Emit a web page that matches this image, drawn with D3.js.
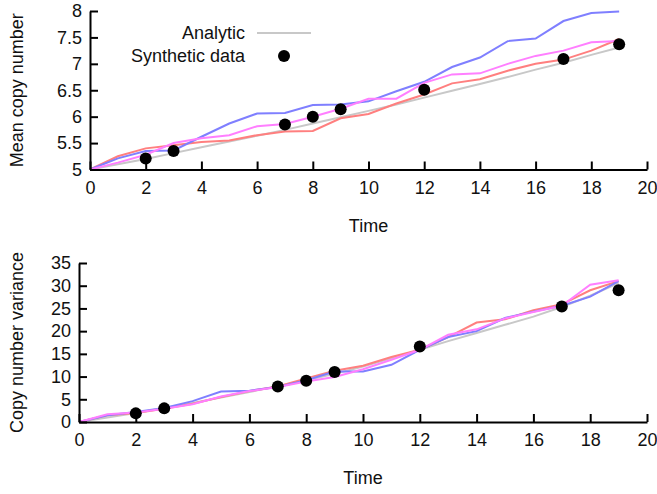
<!DOCTYPE html>
<html lang="en">
<head>
<meta charset="utf-8">
<title>Copy number</title>
<script src="https://cdnjs.cloudflare.com/ajax/libs/d3/7.8.5/d3.min.js"></script>
<style>
  body { margin: 0; background: #fff; }
  svg { display: block; font-family: "Liberation Sans", Arial, sans-serif; }
  .tick text { font-size: 18px; fill: #111; }
  .title { font-size: 18px; fill: #111; }
</style>
</head>
<body>
<script>
// time points of the runs
var time = [0,1,2,3,4,5,6,7,8,9,10,11,12,13,14,15,16,17,18,19];

// mean copy number
var meanAnalytic = [5.00,5.10,5.20,5.31,5.42,5.53,5.64,5.75,5.87,5.99,6.11,6.23,6.36,6.49,6.62,6.75,6.89,7.02,7.17,7.31];
var meanRed     = [5.00,5.25,5.40,5.46,5.52,5.55,5.65,5.72,5.73,5.97,6.05,6.25,6.42,6.63,6.71,6.87,7.00,7.08,7.25,7.47];
var meanBlue    = [5.00,5.21,5.35,5.36,5.62,5.87,6.06,6.07,6.22,6.23,6.29,6.48,6.66,6.94,7.12,7.43,7.48,7.81,7.96,7.99];
var meanMagenta = [5.00,5.13,5.28,5.50,5.59,5.65,5.82,5.86,6.00,6.15,6.34,6.34,6.64,6.80,6.82,7.00,7.15,7.25,7.41,7.43];

// copy number variance
var varAnalytic = [0,1.0,2.0,3.1,4.2,5.4,6.6,7.9,9.2,10.6,12.2,14.0,15.9,17.8,19.6,21.4,23.2,25.3,27.8,30.6];
var varRed      = [0,1.5,2.0,2.9,4.0,5.5,6.8,7.8,9.6,11.3,12.4,14.3,15.9,18.7,21.9,22.6,24.6,25.9,29.0,31.0];
var varBlue     = [0,1.5,2.2,3.1,4.6,6.7,6.9,7.7,9.2,11.1,11.1,12.6,15.9,18.7,20.0,22.9,24.3,25.6,27.6,31.0];
var varMagenta  = [0,1.7,2.1,2.9,3.9,5.6,6.8,7.7,8.9,9.9,11.6,13.7,15.9,19.2,20.4,22.8,24.2,25.6,30.2,31.2];

// synthetic data points
var sampleTime = [2,3,7,8,9,12,17,19];
var sampleMean = [5.21,5.35,5.85,6.00,6.14,6.51,7.09,7.37];
var sampleVar  = [1.9,3.0,7.8,9.1,11.0,16.6,25.4,29.0];

var xTicks = [0,2,4,6,8,10,12,14,16,18,20];
var meanTicks = [5,5.5,6,6.5,7,7.5,8];
var varTicks = [0,5,10,15,20,25,30,35];

var w = 657, h = 494;
var svg = d3.select("body").append("svg").attr("width", w).attr("height", h);

function panel(opt) {
  var x = d3.scaleLinear().domain([0, 20]).range([opt.left, 647]);
  var y = d3.scaleLinear().domain(opt.ydom).range([opt.bottom, opt.top]);
  var g = svg.append("g");

  var line = d3.line().x(function(d, i) { return x(time[i]); }).y(function(d) { return y(d); });
  var series = [
    { v: opt.analytic, c: "#c8c8c8" },
    { v: opt.red, c: "#ff7f7f" },
    { v: opt.blue, c: "#7f7fff" },
    { v: opt.magenta, c: "#ff7fff" }
  ];
  g.selectAll("path.series").data(series).enter().append("path")
    .attr("class", "series")
    .attr("d", function(d) { return line(d.v); })
    .attr("fill", "none")
    .attr("stroke", function(d) { return d.c; })
    .attr("stroke-width", 2);

  g.selectAll("circle.pt").data(sampleTime).enter().append("circle")
    .attr("class", "pt")
    .attr("cx", function(d) { return x(d); })
    .attr("cy", function(d, i) { return y(opt.samples[i]); })
    .attr("r", 6)
    .attr("fill", "#000");

  var xa = g.append("g").attr("transform", "translate(0," + opt.bottom + ")")
    .call(d3.axisBottom(x).tickValues(xTicks).tickSizeInner(-8).tickSizeOuter(0).tickPadding(9));
  var ya = g.append("g").attr("transform", "translate(" + opt.left + ",0)")
    .call(d3.axisLeft(y).tickValues(opt.yticks).tickSizeInner(-8).tickSizeOuter(0).tickPadding(8)
      .tickFormat(d3.format("")));
  [xa, ya].forEach(function(a) {
    a.attr("font-family", null).attr("font-size", null);
    a.selectAll("path, line").attr("stroke", "#000").attr("stroke-width", 2);
  });
  xa.selectAll(".tick text").attr("dy", "0.85em");

  g.append("text").attr("class", "title")
    .attr("x", (opt.left + 647) / 2).attr("y", opt.bottom + 62)
    .attr("text-anchor", "middle").text("Time");
  g.append("text").attr("class", "title")
    .attr("transform", "translate(23," + (opt.top + opt.bottom) / 2 + ") rotate(-90)")
    .attr("text-anchor", "middle").text(opt.ylabel);
  return { x: x, y: y };
}

panel({ left: 90, top: 11, bottom: 169.5, ydom: [5, 8], yticks: meanTicks,
  analytic: meanAnalytic, red: meanRed, blue: meanBlue, magenta: meanMagenta,
  samples: sampleMean, ylabel: "Mean copy number" });

panel({ left: 79, top: 263, bottom: 422, ydom: [0, 35], yticks: varTicks,
  analytic: varAnalytic, red: varRed, blue: varBlue, magenta: varMagenta,
  samples: sampleVar, ylabel: "Copy number variance" });

// legend
var legend = svg.append("g").attr("class", "title");
legend.append("text").attr("x", 245).attr("y", 39).attr("text-anchor", "end").text("Analytic");
legend.append("line").attr("x1", 257).attr("x2", 311).attr("y1", 33).attr("y2", 33)
  .attr("stroke", "#c8c8c8").attr("stroke-width", 2);
legend.append("text").attr("x", 245).attr("y", 62).attr("text-anchor", "end").text("Synthetic data");
legend.append("circle").attr("cx", 284).attr("cy", 56).attr("r", 6).attr("fill", "#000");
</script>
</body>
</html>
